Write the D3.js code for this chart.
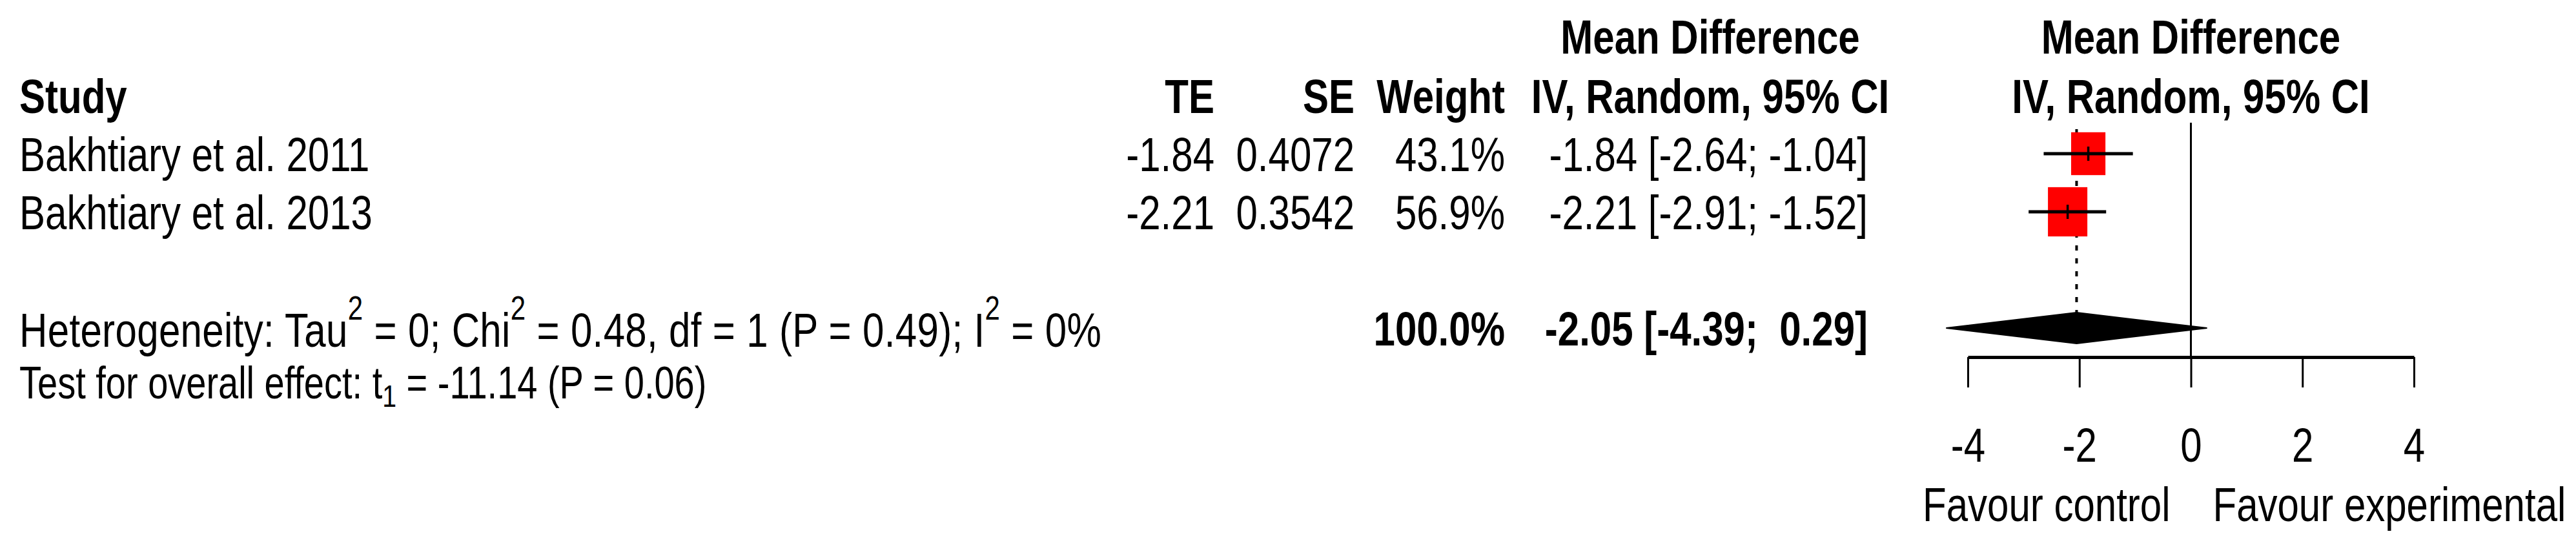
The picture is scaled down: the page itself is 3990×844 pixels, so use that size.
<!DOCTYPE html>
<html>
<head>
<meta charset="utf-8">
<script src="https://cdn.jsdelivr.net/npm/d3@7"></script>
<style>
  body { margin: 0; background: #fff; }
  text { font-family: "Liberation Sans", Arial, Helvetica, sans-serif; white-space: pre; fill: #000; }
</style>
</head>
<body>
<div id="forest"></div>
<script>
// study level data
const studies = ["Bakhtiary et al. 2011", "Bakhtiary et al. 2013"]
const te = [-1.84, -2.21]
const se = [0.4072, 0.3542]
const weight = [43.1, 56.9]
const ciLower = [-2.64, -2.91]
const ciUpper = [-1.04, -1.52]

// random effects summary
const pooledMD = -2.05
const pooledCI = [-4.39, 0.29]
const pooledWeight = 100.0

const xTicks = [-4, -2, 0, 2, 4]

const width = 3990,
    height = 844,
    fs = 60,
    stretch = 1.25   // the picture is stretched vertically

const svg = d3.select("#forest")
  .append("svg")
    .attr("width", width)
    .attr("height", height)

svg.append("rect").attr("width", width).attr("height", height).attr("fill", "#fff")

// text helper, every label gets the same vertical stretch
function label(x, y, s, anchor = "start", bold = false, size = fs) {
  return svg.append("text")
    .attr("transform", `translate(${x},${y}) scale(1,${stretch})`)
    .attr("text-anchor", anchor)
    .attr("font-size", size)
    .attr("font-weight", bold ? "bold" : "normal")
    .text(s)
}

const x = d3.scaleLinear().domain([-4, 4]).range([3048, 3739])
// row centres: 0,1 studies, 3 summary
const row = d3.scaleLinear().domain([0, 1]).range([238, 328])
const base = 27   // text baseline below row centre

const fmt = v => v.toFixed(2)
const ciText = (m, lo, hi) => `${fmt(m)} [${fmt(lo).padStart(5)}; ${fmt(hi).padStart(5)}]`

// headers
label(2649, 83, "Mean Difference", "middle", true)
label(x(0), 83, "Mean Difference", "middle", true)
label(30, 175, "Study", "start", true)
label(1881, 175, "TE", "end", true)
label(2098, 175, "SE", "end", true)
label(2331, 175, "Weight", "end", true)
label(2649, 175, "IV, Random, 95% CI", "middle", true)
label(x(0), 175, "IV, Random, 95% CI", "middle", true)

// study rows
studies.forEach((s, i) => {
  const y = row(i) + base
  label(30, y, s)
  label(1881, y, fmt(te[i]), "end")
  label(2098, y, se[i].toFixed(4), "end")
  label(2331, y, weight[i].toFixed(1) + "%", "end")
  label(2893, y, ciText(te[i], ciLower[i], ciUpper[i]), "end")
})

// summary row
const ySum = row(3)
label(2331, ySum + base, pooledWeight.toFixed(1) + "%", "end", true)
label(2893, ySum + base, ciText(pooledMD, pooledCI[0], pooledCI[1]), "end", true)

// plotmath style text, a bit wider spacing round the operators
const sup = (t, s) => {
  t.append("tspan").attr("font-size", fs * 0.7).attr("dy", -34).text(s)
}
const het = label(30, ySum + 29, "").attr("letter-spacing", 0.35)
het.append("tspan").text("Heterogeneity: Tau")
sup(het, "2")
het.append("tspan").attr("dy", 34).text(" = 0; Chi")
sup(het, "2")
het.append("tspan").attr("dy", 34).text(" = 0.48, df = 1 (P = 0.49); I")
sup(het, "2")
het.append("tspan").attr("dy", 34).text(" = 0%")

const test = label(30, 617, "", "start", false, 56)
test.append("tspan").text("Test for overall effect: t")
test.append("tspan").attr("font-size", 56 * 0.7).attr("dy", 10).text("1")
test.append("tspan").attr("dy", -10).text(" = -11.14 (P = 0.06)")

// forest part
const axisY = 553

// line of no effect
svg.append("line")
  .attr("x1", x(0)).attr("x2", x(0))
  .attr("y1", 190).attr("y2", axisY)
  .attr("stroke", "#000").attr("stroke-width", 3)

// pooled estimate, dashed
svg.append("line")
  .attr("x1", x(pooledMD)).attr("x2", x(pooledMD))
  .attr("y1", 200).attr("y2", ySum - 24)
  .attr("stroke", "#000").attr("stroke-width", 4)
  .attr("stroke-dasharray", "8,12")

// squares, area proportional to weight
const side = w => 8.09 * Math.sqrt(w)
svg.selectAll(".box")
  .data(studies)
  .join("rect")
    .attr("class", "box")
    .attr("x", (d, i) => x(te[i]) - side(weight[i]) / 2)
    .attr("y", (d, i) => row(i) - side(weight[i]) * stretch / 2)
    .attr("width", (d, i) => side(weight[i]))
    .attr("height", (d, i) => side(weight[i]) * stretch)
    .attr("fill", "#ff0000")

svg.selectAll(".ci")
  .data(studies)
  .join("line")
    .attr("class", "ci")
    .attr("x1", (d, i) => x(ciLower[i]))
    .attr("x2", (d, i) => x(ciUpper[i]))
    .attr("y1", (d, i) => row(i))
    .attr("y2", (d, i) => row(i))
    .attr("stroke", "#000").attr("stroke-width", 5)

svg.selectAll(".est")
  .data(studies)
  .join("line")
    .attr("class", "est")
    .attr("x1", (d, i) => x(te[i]))
    .attr("x2", (d, i) => x(te[i]))
    .attr("y1", (d, i) => row(i) - 11)
    .attr("y2", (d, i) => row(i) + 11)
    .attr("stroke", "#000").attr("stroke-width", 3.5)

// diamond
svg.append("path")
  .attr("d", d3.line()([
    [x(pooledCI[0]), ySum],
    [x(pooledMD), ySum - 24],
    [x(pooledCI[1]), ySum],
    [x(pooledMD), ySum + 24]
  ]) + "Z")
  .attr("fill", "#000")
  .attr("stroke", "#000")
  .attr("stroke-width", 2)

// x axis
const axis = svg.append("g")
  .attr("transform", `translate(0,${axisY})`)
  .call(d3.axisBottom(x).tickValues(xTicks).tickSize(47).tickSizeOuter(0).tickFormat(d => String(d)))

axis.select(".domain").attr("stroke-width", 5)
axis.selectAll(".tick line").attr("stroke-width", 3)
axis.selectAll(".tick text")
  .attr("y", null).attr("dy", null)
  .attr("font-size", fs)
  .attr("fill", "#000")
  .attr("font-family", null)
  .attr("transform", `translate(0,${715 - axisY}) scale(1,${stretch})`)

label(x(0) - 32, 807, "Favour control", "end")
label(x(0) + 34, 807, "Favour experimental", "start")
</script>
</body>
</html>
